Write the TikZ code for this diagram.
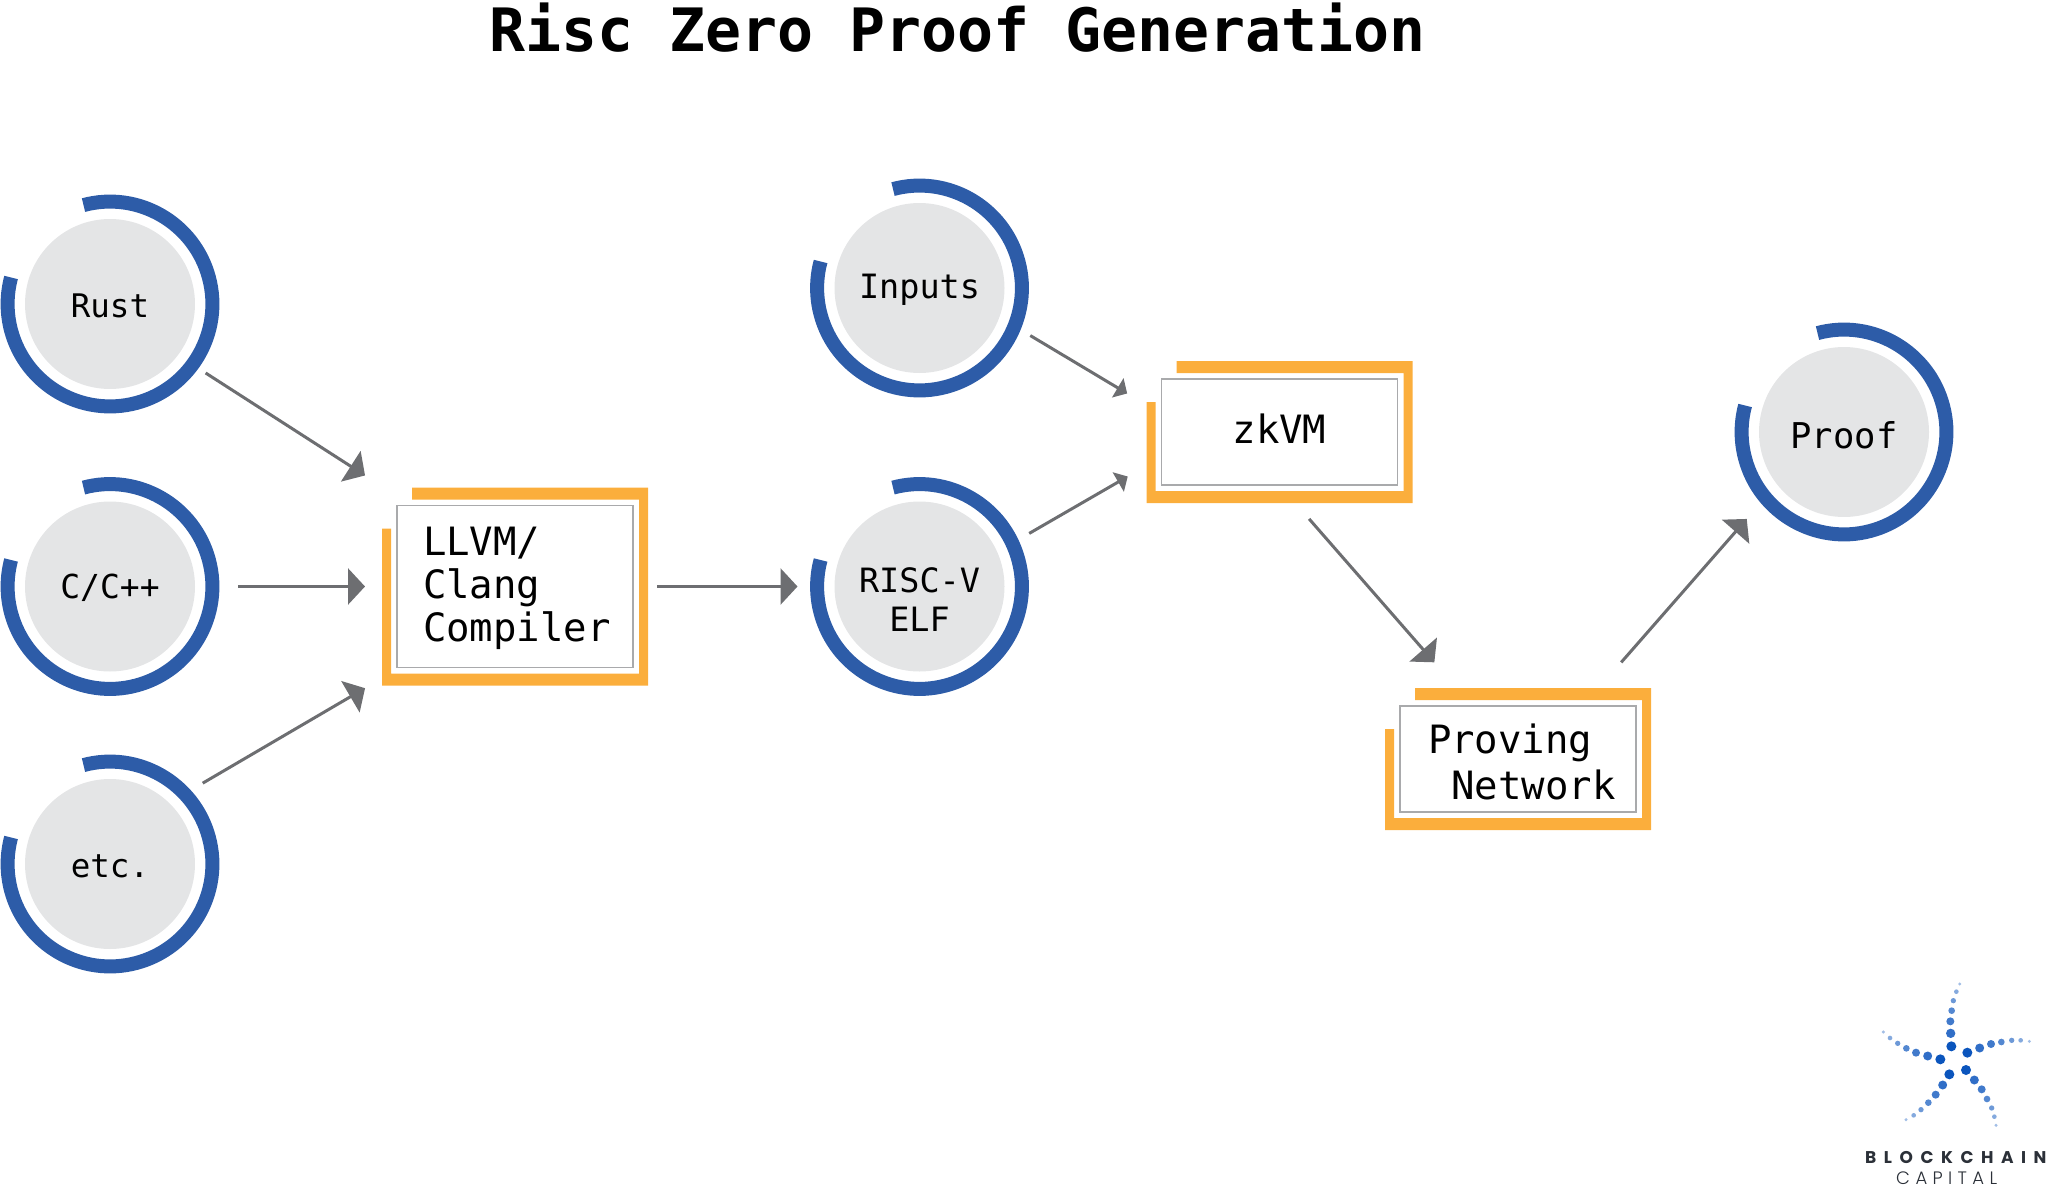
\documentclass[tikz,border=0pt]{standalone}
\usepackage{fontspec}
\usetikzlibrary{arrows.meta}
\setmonofont{DejaVu Sans Mono}
\newfontfamily\logoboldfont[LetterSpace=44.5]{Poppins}
\newfontfamily\logolightfont[LetterSpace=30]{Poppins Light}
\definecolor{ringBlue}{HTML}{2D5CA8}
\definecolor{discGrey}{HTML}{E4E5E6}
\definecolor{frameOrange}{HTML}{FBAE3C}
\definecolor{arrowGrey}{HTML}{6D6E71}
\definecolor{boxGrey}{HTML}{A9AAAC}
\definecolor{logoBlue}{HTML}{0B55BD}
\definecolor{logoInk}{HTML}{2B3038}
\newcommand{\monosize}[2]{\fontsize{#1}{#2}\selectfont\ttfamily}
% orange bracket round a box, from the box corners
\newcommand{\stageframe}[1]{
	\fill[frameOrange] ([shift={(15pt,18pt)}]#1.north west) -- ([shift={(15pt,18pt)}]#1.north east)
		-- ([shift={(15pt,-18pt)}]#1.south east) -- ([shift={(-15pt,-18pt)}]#1.south west)
		-- ([shift={(-15pt,-23pt)}]#1.north west) -- ([shift={(-6pt,-23pt)}]#1.north west)
		-- ([shift={(-6pt,-6pt)}]#1.south west) -- ([shift={(6pt,-6pt)}]#1.south east)
		-- ([shift={(6pt,6pt)}]#1.north east) -- ([shift={(15pt,6pt)}]#1.north west) -- cycle;
}
\tikzset{
	langNode/.style={circle, fill=discGrey, minimum size=170pt, inner sep=0pt, outer sep=0pt, align=center, text depth=0pt, font=\monosize{#1}{39.3pt}},
	stageBox/.style={rectangle, draw=boxGrey, line width=1.5pt, fill=white, minimum width=236pt, inner sep=0pt, outer sep=0pt},
	ringArc/.style={draw=ringBlue, line width=14pt},
	flowArrow/.style={draw=arrowGrey, line width=3pt, -{Triangle[length=17pt,width=36pt]}},
	flowArrowSmall/.style={draw=arrowGrey, line width=3pt, -{Triangle[length=11pt,width=22pt]}}
}
\begin{document}
\begin{tikzpicture}[x=1pt,y=-1pt]
\path[use as bounding box, clip] (0,0) rectangle (2048,1188);

\node[anchor=base, font=\monosize{59.8pt}{60pt}\bfseries](titleLabel) at (958,52){Risc Zero Proof Generation};

\node[langNode=32.5pt, text height=26pt](rust) at (110,304){Rust};
\node[langNode=33pt, text height=23pt](cpp) at (110,586.5){C/C++};
\node[langNode=32.5pt, text height=26pt](etcLang) at (110,864){etc.};
\node[langNode=33.5pt, text height=20pt](inputs) at (919.5,288){Inputs};
\node[langNode=33.5pt, text width=125pt, text height=32pt, text depth=20pt](elf) at (919.5,586.5){RISC-V\\ELF};
\node[langNode=35.5pt, text height=32.6pt](proof) at (1844,432){Proof};

\foreach \n in {rust,cpp,etcLang,inputs,elf,proof}{
	\draw[ringArc] (\n.center) ++(105:102.4pt) arc[start angle=105, end angle=-195, radius=102.4pt];
}

\node[stageBox, minimum height=162pt, inner xsep=26pt, text width=184pt, text height=33pt, align=left, font=\monosize{39pt}{43pt}](llvm) at (515,586.5){LLVM/\\Clang\\Compiler};
\node[stageBox, minimum height=106pt, align=center, text height=22pt, text depth=0pt, font=\monosize{39pt}{43pt}](zkvm) at (1279.5,432){zkVM};
\node[stageBox, minimum height=106pt, inner xsep=28pt, text width=180pt, text height=36pt, align=left, font=\monosize{39pt}{46pt}](prover) at (1518,759){Proving\\\hspace*{0.6em}Network};
\stageframe{llvm}
\stageframe{zkvm}
\stageframe{prover}

% arrows stop short of the nodes
\draw[flowArrow, shorten <=33pt, shorten >=38pt] (rust.-37) -- ([yshift=9.5pt]llvm.north west);
\draw[flowArrow, shorten <=43pt, shorten >=32pt] (cpp.east) -- (llvm.west);
\draw[flowArrow, shorten <=39pt, shorten >=37pt] (etcLang.46) -- ([yshift=-2pt]llvm.south west);
\draw[flowArrow, shorten <=24pt, shorten >=37pt] (llvm.east) -- (elf.west);
\draw[flowArrowSmall, shorten <=36pt, shorten >=40pt] (inputs.-20) -- ([yshift=18pt]zkvm.west);
\draw[flowArrowSmall, shorten <=37pt, shorten >=39pt] (elf.24) -- ([yshift=-25pt]zkvm.west);
\draw[flowArrow, shorten <=45pt, shorten >=58pt] (zkvm.south) -- ([xshift=-45.5pt]prover.north);
\draw[flowArrow, shorten <=58pt, shorten >=46pt] ([xshift=65pt]prover.north) -- (proof.218);

% logo, read off in thirds of a pixel
\begin{scope}[shift={(1840,960)},scale=1/3]
	\foreach \x/\y/\r/\c in {334/259/15/100,332/220/14/85,331/184/12/78,335/152/10/70,340/122/8/60,349/95/7/50,359/72/5/38,
		301/298/15/100,263/288/13.5/85,228/278/12/78,199/265/10/70,173/250/8/60,150/234/7/50,130/216/5/38,
		382/278/15/100,419/264/13.5/85,453/252/12/78,484/246/10/70,515/241/8/60,542/241/7/50,568/244/5/38,
		378/330/15/100,403/360/13.5/85,425/388/12/78,441/417/10/70,455/444/8/60,463/470/7/50,468/496/5/38,
		328/343/15/100,308/375/13.5/85,287/404/12/78,265/428/10/70,243/449/8/60,221/466/7/50,198/479/5/38}{
		\fill[logoBlue!\c] (\x,\y) circle[radius=\r];
	}
\end{scope}
\node[anchor=base west, inner sep=0pt, text=logoInk, font=\logoboldfont\bfseries\fontsize{17pt}{17pt}\selectfont](logoTop) at (1865,1163){BLOCKCHAIN};
\node[anchor=base west, inner sep=0pt, text=logoInk, font=\logolightfont\fontsize{18pt}{18pt}\selectfont](logoBottom) at (1896,1184.5){CAPITAL};
\end{tikzpicture}
\end{document}
